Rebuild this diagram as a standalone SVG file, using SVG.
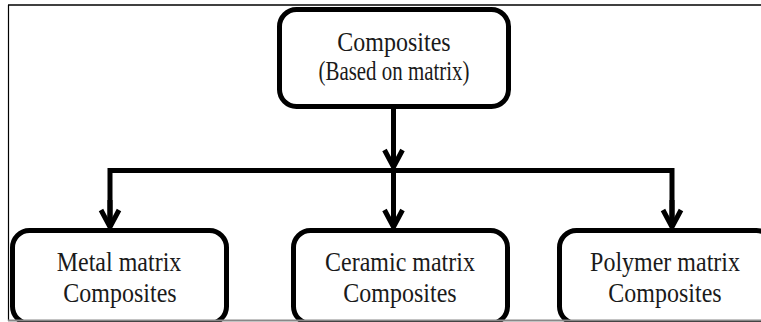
<svg xmlns="http://www.w3.org/2000/svg" width="761" height="322" viewBox="0 0 761 322">
<style>
.box{fill:#fff;stroke:#000;stroke-width:5}
.lbl{font-family:"Liberation Serif","Times New Roman",serif;font-size:24px;fill:#1a1a1a;text-anchor:middle}
.conn{fill:none;stroke:#000;stroke-width:5}
</style>
<defs>
<marker id="arr" markerUnits="userSpaceOnUse" markerWidth="30" markerHeight="30" viewBox="-15 -25 30 30" refX="0" refY="0" orient="auto-start-reverse" overflow="visible">
<path d="M-17,-9 L0,0 L-17,9" fill="none" stroke="#000" stroke-width="5" stroke-linejoin="miter"/>
</marker>
</defs>
<rect width="761" height="322" fill="#fff"/>
<g id="frame">
<line x1="8" y1="5" x2="761" y2="5" stroke="#000" stroke-width="1.5"/>
<line x1="8.5" y1="5" x2="8.5" y2="321" stroke="#000" stroke-width="1.2"/>
</g>
<g id="connectors">
<path class="conn" d="M393.5,108 V167" marker-end="url(#arr)"/>
<path class="conn" d="M393.5,168 V227" marker-end="url(#arr)"/>
<path class="conn" d="M110,227 V170.5 H672 V227" />
<path class="conn" d="M110,200 V227" marker-end="url(#arr)"/>
<path class="conn" d="M672,200 V227" marker-end="url(#arr)"/>
</g>
<g id="composites">
<rect class="box" x="279.5" y="9.5" width="229" height="97" rx="17"/>
<text class="lbl" transform="translate(394,51) scale(1,1.1)">Composites</text>
<text class="lbl" transform="translate(394,80) scale(1,1.1)" textLength="151" lengthAdjust="spacingAndGlyphs">(Based on matrix)</text>
</g>
<g id="metal">
<rect class="box" x="12.5" y="230.5" width="214" height="93" rx="17"/>
<text class="lbl" transform="translate(119,271) scale(1,1.12)">Metal matrix</text>
<text class="lbl" transform="translate(120,302) scale(1,1.12)">Composites</text>
</g>
<g id="ceramic">
<rect class="box" x="293.5" y="230.5" width="214" height="93" rx="17"/>
<text class="lbl" transform="translate(400,271) scale(1,1.12)">Ceramic matrix</text>
<text class="lbl" transform="translate(400,302) scale(1,1.12)">Composites</text>
</g>
<g id="polymer">
<rect class="box" x="559.5" y="230.5" width="214" height="93" rx="17"/>
<text class="lbl" transform="translate(665,271) scale(1,1.12)">Polymer matrix</text>
<text class="lbl" transform="translate(665,302) scale(1,1.12)">Composites</text>
</g>
<line x1="8" y1="320.5" x2="761" y2="320.5" stroke="#888" stroke-width="2"/>
</svg>
